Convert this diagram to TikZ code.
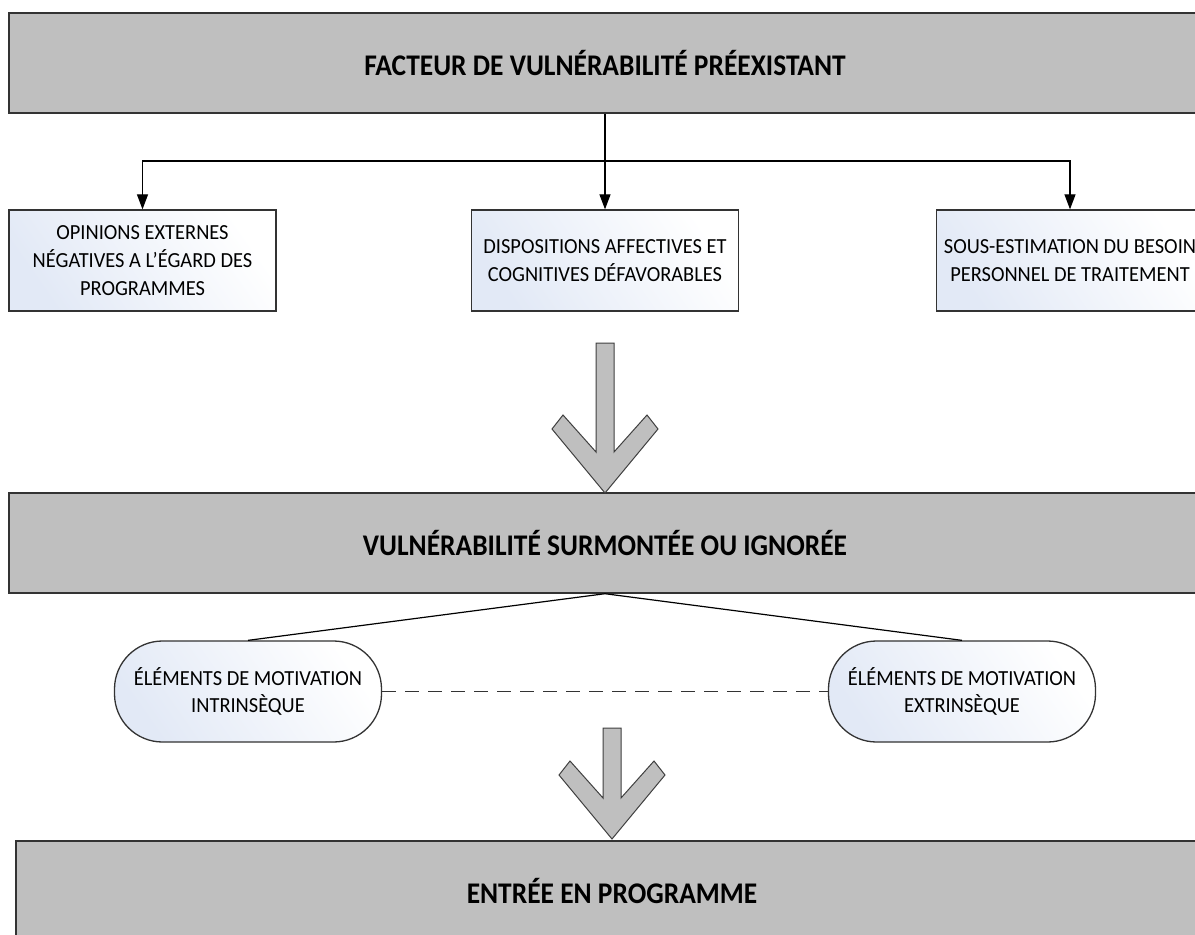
\documentclass[tikz,border=0pt]{standalone}
\usepackage{fontspec}
\setmainfont{Carlito}
\newfontfamily\titlefont[FakeStretch=0.915]{Carlito}
\newfontfamily\boxfont[FakeStretch=0.95]{Carlito}
\usetikzlibrary{arrows.meta}
\definecolor{boxgray}{HTML}{BFBFBF}
\definecolor{edgegray}{HTML}{333333}
\definecolor{paleblue}{HTML}{E2E9F6}
\definecolor{arrowedge}{HTML}{404040}
\tikzset{
  bigbox/.style={draw=edgegray, line width=1.4pt, fill=boxgray, inner sep=0pt,
    minimum height=100pt, font=\titlefont\bfseries\fontsize{30}{34}\selectfont},
  softfill/.style={shading=axis, top color=white, bottom color=paleblue, shading angle=-55},
  smallbox/.style={draw=edgegray, line width=1.3pt, softfill,
    inner sep=0pt, minimum width=267pt, minimum height=101pt, align=center,
    font=\boxfont\fontsize{21.5}{28}\selectfont},
  roundbox/.style={draw=edgegray, line width=1.3pt, softfill,
    rounded corners=48pt, inner sep=0pt, minimum width=267pt, minimum height=101pt,
    align=center, font=\boxfont\fontsize{21.5}{27}\selectfont},
  conn/.style={draw=black, line width=1.2pt},
  arr/.style={conn, -{Triangle[length=15pt,width=11pt]}},
  dashconn/.style={draw=black!80, line width=1.6pt, dash pattern=on 14pt off 9pt},
  chevstyle/.style={draw=arrowedge, line width=1pt, fill=boxgray, line join=miter},
  chev/.pic={\path[chevstyle] (0,0) -- (-53,-64) -- (-42,-78) -- (-9,-41) -- (-9,-#1)
     -- (9,-#1) -- (9,-41) -- (42,-78) -- (53,-64) -- cycle;}
}
\begin{document}
\begin{tikzpicture}[x=1pt,y=-1pt]
\useasboundingbox (0,0) rectangle (1195,935);
\fill[white] (0,0) rectangle (1195,935);

% main boxes
\node[bigbox, minimum width=1192pt] (top) at (605,63) {FACTEUR DE VULNÉRABILITÉ PRÉEXISTANT};
\node[bigbox, minimum width=1192pt] (mid) at (605,543) {VULNÉRABILITÉ SURMONTÉE OU IGNORÉE};
\node[bigbox, minimum width=1192pt] (bot) at (612,891) {ENTRÉE EN PROGRAMME};

% small boxes
\node[smallbox] (b1) at (142.5,260.5) {OPINIONS EXTERNES\\NÉGATIVES A L’ÉGARD DES\\PROGRAMMES};
\node[smallbox] (b2) at (605,260.5) {DISPOSITIONS AFFECTIVES ET\\COGNITIVES DÉFAVORABLES};
\node[smallbox] (b3) at (1070,260.5) {SOUS-ESTIMATION DU BESOIN\\PERSONNEL DE TRAITEMENT};

% connectors from the top box
\coordinate (split) at (605,161);
\draw[arr] (top.south) -- (b2.north);
\draw[arr] (split) -| (b1.north);
\draw[arr] (split) -| (b3.north);

% hollow arrows
\pic at (605,493) {chev=150};
\pic at (612,839) {chev=111};

% motivation nodes
\node[roundbox] (intr) at (248,691.5) {ÉLÉMENTS DE MOTIVATION\\INTRINSÈQUE};
\node[roundbox] (extr) at (962,691.5) {ÉLÉMENTS DE MOTIVATION\\EXTRINSÈQUE};
\draw[conn] (mid.south) -- (intr.north);
\draw[conn] (mid.south) -- (extr.north);
\draw[dashconn] (intr.east) -- (extr.west);
\end{tikzpicture}
\end{document}
